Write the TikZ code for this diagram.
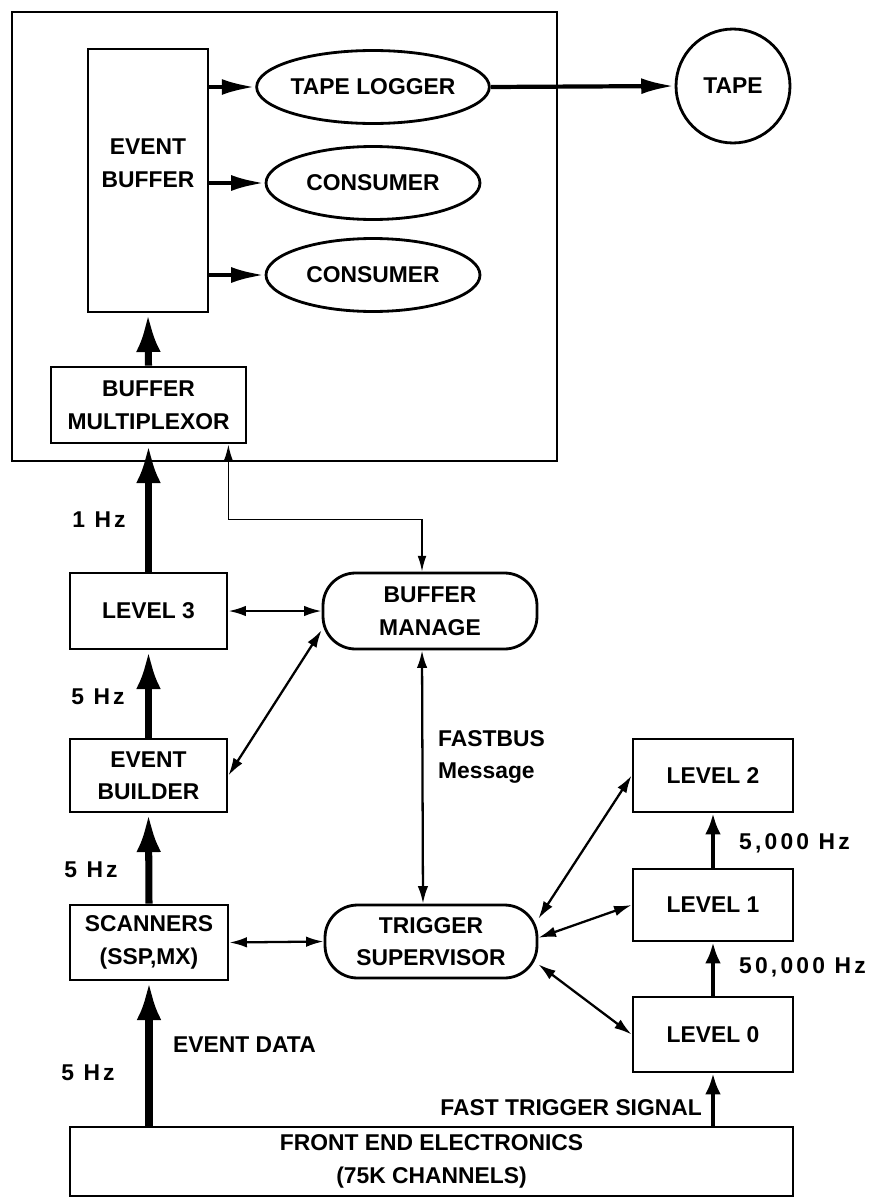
\documentclass[tikz,border=0pt]{standalone}
\usepackage{fontspec}
\setmainfont{Liberation Sans}
\newfontfamily\ratefont[LetterSpace=14]{Liberation Sans}
\usetikzlibrary{arrows.meta,shapes.geometric}

\begin{document}
\begin{tikzpicture}[x={(0.02cm,0)}, y={(0,-0.02cm)},
	box/.style={draw, line width=1.6pt, inner sep=0pt},
	oval/.style={ellipse, draw, line width=1.6pt, minimum width=4.28cm, minimum height=1.46cm, inner sep=0pt},
	rbox/.style={box, rounded corners=0.65cm, minimum width=4.28cm, minimum height=1.52cm},
	thickflow/.style={line width=4pt, -{Latex[length=22pt, width=14pt]}},
	feed/.style={line width=2.4pt, -{Latex[length=19pt, width=9pt]}},
	levflow/.style={line width=2.2pt, -{Latex[length=12pt, width=9pt]}},
	dlink/.style={line width=1.3pt, {Latex[length=10pt, width=6pt]}-{Latex[length=10pt, width=6pt]}},
	ctrl/.style={line width=0.9pt, {Latex[length=9pt, width=5pt]}-{Latex[length=9pt, width=5pt]}},
	rate/.style={font=\bfseries\ratefont\fontsize{13}{18.5}\selectfont},
	every node/.style={font=\bfseries\fontsize{13}{18.5}\selectfont, text=black, align=center}
	]
	\useasboundingbox (0,0) rectangle (882,1200);
	
	% Online computer frame
	\draw[line width=1.4pt] (12,12) rectangle (557,461);
	
	% Event buffer and its consumers
	\node[box, minimum width=2.4cm, minimum height=5.26cm] (evbuf) at (148,180.5) {};
	\node at (148,163) {EVENT\\BUFFER};
	\node[oval] (tlog) at (373,87) {TAPE LOGGER};
	\node[oval] (cons1) at (373,183) {CONSUMER};
	\node[oval] (cons2) at (373,275) {CONSUMER};
	\node[circle, draw, line width=1.6pt, minimum size=2.28cm, inner sep=0pt] (tape) at (733,86) {TAPE};
	\node[box, minimum width=3.9cm, minimum height=1.52cm] (bmux) at (148.5,405) {BUFFER\\MULTIPLEXOR};
	
	% Online processing chain
	\node[box, minimum width=3.14cm, minimum height=1.52cm] (lev3) at (148.5,611) {LEVEL 3};
	\node[rbox] (bmgr) at (430,611) {BUFFER\\MANAGE};
	\node[box, minimum width=3.14cm, minimum height=1.46cm] (evb) at (148.5,775.5) {EVENT\\BUILDER};
	\node[box, minimum width=3.16cm, minimum height=1.5cm] (scan) at (149,942.5) {SCANNERS\\(SSP,MX)};
	\node[rbox, minimum width=4.24cm, minimum height=1.46cm] (ts) at (431,941.5) {TRIGGER\\SUPERVISOR};
	
	% Trigger levels
	\node[box, minimum width=3.2cm, minimum height=1.46cm] (lev2) at (713,775.5) {LEVEL 2};
	\node[box, minimum width=3.2cm, minimum height=1.44cm] (lev1) at (713,905) {LEVEL 1};
	\node[box, minimum width=3.2cm, minimum height=1.5cm] (lev0) at (713,1034.5) {LEVEL 0};
	\node[box, minimum width=14.46cm, minimum height=1.38cm] (fe) at (431.5,1161.5) {FRONT END ELECTRONICS\\(75K CHANNELS)};
	
	% Data flow
	\draw[feed] (evbuf.east |- tlog) -- (tlog.west);
	\draw[feed] (evbuf.east |- cons1) -- (cons1.west);
	\draw[feed] (evbuf.east |- cons2) -- (cons2.west);
	\draw[feed] (tlog.east) -- (tape.west);
	\draw[thickflow] (bmux.north) -- (evbuf.south);
	\draw[thickflow] (lev3.north) -- (bmux.south);
	\draw[thickflow] (evb.north) -- (lev3.south);
	\draw[thickflow] (scan.north) -- (evb.south);
	\draw[thickflow] (fe.north -| scan) -- (scan.south);
	
	% Trigger chain
	\draw[levflow] (fe.north -| lev0) -- (lev0.south);
	\draw[levflow] (lev0.north) -- (lev1.south);
	\draw[levflow] (lev1.north) -- (lev2.south);
	
	% Control messages
	\draw[ctrl] ([xshift=-0.38cm]bmux.south east) -- ++(0,75) -| ([xshift=-0.16cm]bmgr.north);
	\draw[dlink] (lev3.east) -- (bmgr.west);
	\draw[dlink] (evb.east) -- (bmgr.190);
	\draw[dlink] ([xshift=-0.16cm]bmgr.south) -- ([xshift=-0.16cm]ts.north);
	\draw[dlink] (scan.east) -- (ts.west);
	\draw[dlink] (ts.12) -- (lev2.west);
	\draw[dlink] (ts.2) -- (lev1.west);
	\draw[dlink] (ts.-12) -- (lev0.west);
	
	% Rates and signal names
	\node[rate] at (99,520) {1 Hz};
	\node[rate] at (98,697) {5 Hz};
	\node[rate] at (91,870) {5 Hz};
	\node[rate] at (88,1073) {5 Hz};
	\node[anchor=west] at (167,1045) {EVENT DATA};
	\node[anchor=west, align=left] at (432,757) {FASTBUS\\Message};
	\node[rate, anchor=west] at (733,843) {5,000 Hz};
	\node[rate, anchor=west] at (733,967) {50,000 Hz};
	\node[anchor=east] at (708,1108) {FAST TRIGGER SIGNAL};
	
\end{tikzpicture}
\end{document}
